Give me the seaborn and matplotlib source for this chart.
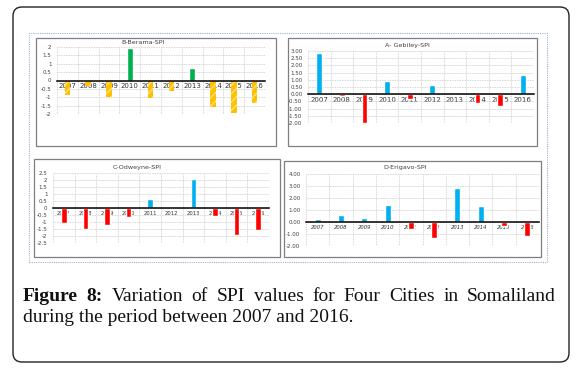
import numpy as np
import pandas as pd
import matplotlib
matplotlib.use("Agg")
import matplotlib.pyplot as plt
from matplotlib.patches import Rectangle, FancyBboxPatch
from matplotlib.ticker import FixedLocator, FormatStrFormatter
import seaborn as sns

sns.set_style("white")
plt.rcParams['axes.unicode_minus'] = False
plt.rcParams['font.family'] = ['DejaVu Sans']

#%% data
years = [str(y) for y in range(2007, 2017)]
berama = [-0.85, -0.35, -1.00, 1.95, -1.05, -0.65, 0.75, -1.60, -1.95, -1.35]
gebiley = [2.85, -0.10, -2.00, 0.95, -0.30, 0.65, 0.05, -0.60, -0.80, 1.35]
odweyne = [-1.05, -1.50, -1.20, -0.65, 0.65, -0.10, 2.05, -0.55, -1.95, -1.55]
erigavo = [0.25, 0.60, 0.35, 1.40, -0.60, -1.30, 2.85, 1.35, -0.35, -1.15]

titles = ["B-Berama-SPI", "A- Gebiley-SPI", "C-Odweyne-SPI", "D-Erigavo-SPI"]
caption_bold = ["Figure", "8:"]
caption_line1 = ["Variation", "of", "SPI", "values", "for", "Four", "Cities", "in", "Somaliland"]
caption_line2 = "during the period between 2007 and 2016."

#%% figure in pixels
W, H = 579, 369
fig = plt.figure(figsize=(W / 100, H / 100), dpi=100)
fig.patch.set_facecolor("white")
inch = fig.dpi_scale_trans


def rect(x0, y0, x1, y1):
    return [x0 / W, 1 - y1 / H, (x1 - x0) / W, (y1 - y0) / H]


def box(x0, y0, x1, y1, **kw):
    p = Rectangle((x0 / 100, (H - y1) / 100), (x1 - x0) / 100, (y1 - y0) / 100,
                  transform=inch, fill=False, **kw)
    fig.patches.append(p)


# outer rounded frame
frame = FancyBboxPatch((13 / 100, (H - 362) / 100), (569 - 13) / 100, (362 - 7) / 100,
                       boxstyle="round,pad=0,rounding_size=0.09", transform=inch,
                       fill=False, ec="#222222", lw=1.0)
fig.patches.append(frame)
# dotted border of the pasted image
box(29, 33, 547, 262, ec="#9fb3cc", lw=0.8, ls=(0, (1, 1)))

panels = [
    dict(vals=berama, title=titles[0], box=(36, 38, 276, 146), area=(57, 47, 265, 114),
         ylim=(-2, 2), step=0.5, fmt="%g", pos="#00B050", neg="#FFC000",
         tcx=143, tcy=43, xfs=5.0, italic=False, hatch=True),
    dict(vals=gebiley, title=titles[1], box=(288, 38, 537, 146), area=(308, 51, 534, 123),
         ylim=(-2, 3), step=0.5, fmt="%.2f", pos="#00B0F0", neg="#FF0000",
         tcx=407, tcy=45, xfs=5.0, italic=False, hatch=False),
    dict(vals=odweyne, title=titles[2], box=(34, 159, 280, 257), area=(53, 173, 269, 243),
         ylim=(-2.5, 2.5), step=0.5, fmt="%g", pos="#00B0F0", neg="#FF0000",
         tcx=137, tcy=167, xfs=3.8, italic=False, hatch=False),
    dict(vals=erigavo, title=titles[3], box=(284, 161, 541, 257), area=(306, 174, 539, 246),
         ylim=(-2, 4), step=1.0, fmt="%.2f", pos="#00B0F0", neg="#FF0000",
         tcx=405, tcy=168, xfs=3.8, italic=True, hatch=False),
]

for p in panels:
    box(*p["box"], ec="#7f7f7f", lw=0.9)
    ax = fig.add_axes(rect(*p["area"]))
    df = pd.DataFrame({"year": years, "spi": p["vals"]})
    df["sign"] = np.where(df["spi"] >= 0, "pos", "neg")
    sns.barplot(data=df, x="year", y="spi", hue="sign", dodge=False, width=0.26,
                palette={"pos": p["pos"], "neg": p["neg"]}, legend=False,
                saturation=1, ax=ax)
    if p["hatch"]:
        for bar in ax.patches:
            if bar.get_height() < 0:
                bar.set_hatch("////")
                bar.set_edgecolor("#FFE27A")
                bar.set_linewidth(0)
    lo, hi = p["ylim"]
    ax.set_ylim(lo, hi)
    ax.set_xlim(-0.5, 9.5)
    ax.yaxis.set_major_locator(FixedLocator(np.arange(lo, hi + 0.001, p["step"])))
    ax.yaxis.set_major_formatter(FormatStrFormatter(p["fmt"]))
    ax.xaxis.set_minor_locator(FixedLocator(np.arange(-0.5, 10, 1)))
    ax.grid(True, which="major", axis="y", color="#c8c8c8", lw=0.6, ls=(0, (1, 1)))
    ax.grid(True, which="minor", axis="x", color="#c8c8c8", lw=0.6, ls=(0, (1, 1)))
    ax.set_axisbelow(True)
    for s in ["left", "right", "top"]:
        ax.spines[s].set_visible(False)
    ax.spines["bottom"].set_position(("data", 0))
    ax.spines["bottom"].set_color("black")
    ax.spines["bottom"].set_linewidth(1.1)
    ax.spines["bottom"].set_zorder(5)
    ax.tick_params(axis="y", length=0, pad=4, labelsize=4, labelcolor="#404040")
    ax.tick_params(axis="x", which="both", length=0, pad=2, labelsize=p["xfs"],
                   labelcolor="#333333")
    if p["italic"]:
        for t in ax.get_xticklabels():
            t.set_fontstyle("italic")
    ax.set_xlabel("")
    ax.set_ylabel("")
    ax.patch.set_alpha(0)
    fig.text(p["tcx"] / W, 1 - p["tcy"] / H, p["title"], ha="center", va="center",
             fontsize=4.6, color="#404040")

#%% caption, first line justified
renderer = fig.canvas.get_renderer()
words = [(w, "bold") for w in caption_bold] + [(w, "normal") for w in caption_line1]
x_left, x_right, base1, base2 = 23, 556, 301, 322
texts = []
for w, wt in words:
    t = fig.text(0, 0, w, fontsize=14, family="Liberation Serif", fontweight=wt,
                 color="#111111", va="baseline", transform=inch)
    texts.append(t)
widths = [t.get_window_extent(renderer).width / fig.dpi * 100 for t in texts]
gap = ((x_right - x_left) - sum(widths)) / (len(texts) - 1)
x = x_left
for t, wd in zip(texts, widths):
    t.set_position((x / 100, (H - base1) / 100))
    x += wd + gap
fig.text(x_left / 100, (H - base2) / 100, caption_line2, fontsize=14,
         family="Liberation Serif", color="#111111", va="baseline", transform=inch)

fig.savefig("out.png", dpi=100)
